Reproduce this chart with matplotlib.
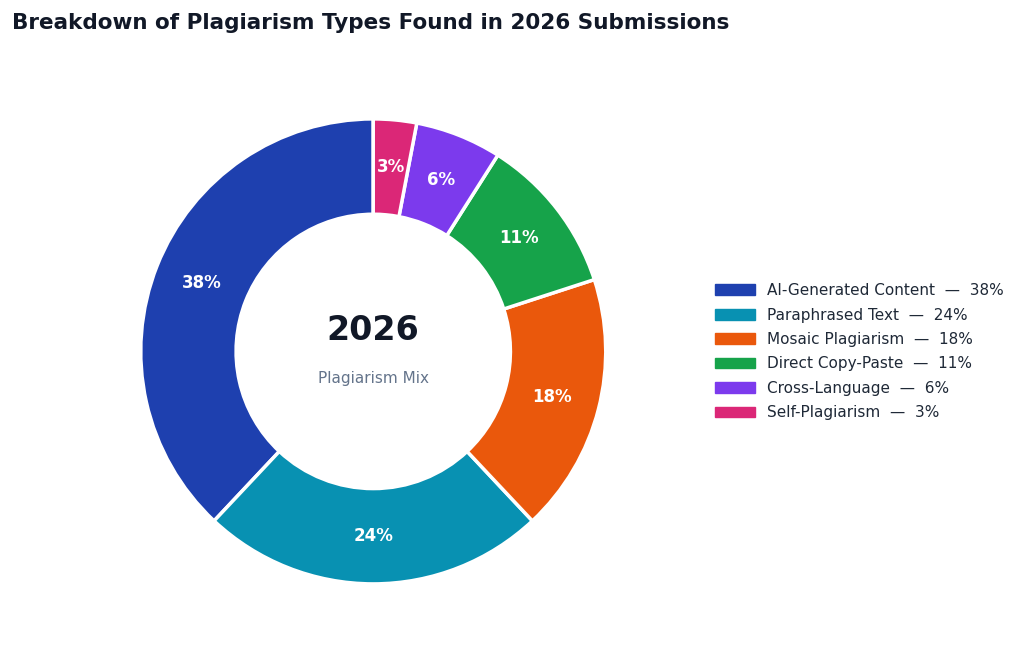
import matplotlib.pyplot as plt
from matplotlib.patches import Patch

categories = ["AI-Generated Content", "Paraphrased Text", "Mosaic Plagiarism",
              "Direct Copy-Paste", "Cross-Language", "Self-Plagiarism"]
shares = [38, 24, 18, 11, 6, 3]
colors = ["#1e40af", "#0891b2", "#ea580c", "#16a34a", "#7c3aed", "#db2777"]

plt.rcParams["font.family"] = "DejaVu Sans"

fig = plt.figure(figsize=(10.24, 6.55), dpi=100)
ax = fig.add_axes([0.135, 0.105, 0.459, 0.717])

wedges, _, autotexts = ax.pie(
    shares, colors=colors, startangle=90, counterclock=True,
    autopct="%d%%", pctdistance=0.795,
    wedgeprops=dict(width=0.41, edgecolor="white", linewidth=2.5),
    textprops=dict(color="white", fontsize=12, fontweight="bold"),
)
ax.set_aspect("equal")
ax.set_xlim(-1.01, 1.01)
ax.set_ylim(-1.01, 1.01)

ax.text(0, 0.09, "2026", ha="center", va="center", fontsize=24,
        fontweight="bold", color="#111827")
ax.text(0, -0.115, "Plagiarism Mix", ha="center", va="center", fontsize=11,
        color="#64748b")

handles = [Patch(color=c, label=f"{n}  —  {v}%") for n, c, v in zip(categories, colors, shares)]
fig.legend(handles=handles, loc="center left", bbox_to_anchor=(0.685, 0.463),
           frameon=False, fontsize=11, handlelength=2.6, handleheight=0.7,
           labelspacing=0.62, labelcolor="#1f2937")

fig.text(0.012, 0.965, "Breakdown of Plagiarism Types Found in 2026 Submissions",
         fontsize=15.5, fontweight="bold", color="#111827", va="center")

fig.savefig("out.png", dpi=100)
